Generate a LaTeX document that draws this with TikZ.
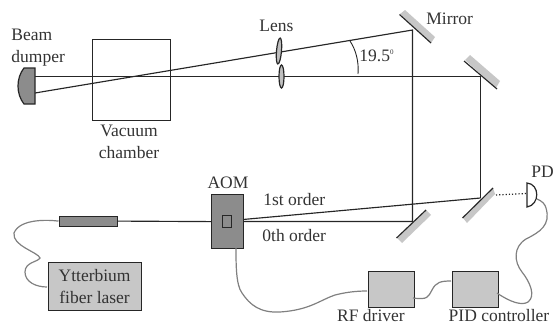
\documentclass[tikz,border=0pt]{standalone}
\usepackage{fontspec}
\setmainfont{Liberation Serif}
\begin{document}
\begin{tikzpicture}[x=1pt,y=-1pt,thick]
    \tikzstyle{beam}=[line width=1.15pt,draw=black!85]
    \tikzstyle{fibre}=[line width=1.2pt,draw=black!50]
    \tikzstyle{tbox}=[line width=1.2pt,draw=black!85,inner sep=0pt,anchor=north west]
    \tikzstyle{lbl}=[inner sep=0pt,align=center,text=black!80,font=\fontsize{17.5}{22}\selectfont]
    \tikzstyle{glass}=[fill=black!22,draw=none]
    \useasboundingbox (0,0) rectangle (554,324);

    % boxes
    \node[tbox,minimum width=78pt,minimum height=81.5pt] (chamber) at (91.5,38.5) {};
    \node[tbox,fill=black!45,minimum width=32pt,minimum height=54pt] (aom) at (211,194) {};
    \node[tbox,fill=black!45,minimum width=9pt,minimum height=12pt] (cell) at (222,215) {};
    \node[tbox,fill=black!45,minimum width=58pt,minimum height=10pt] (coll) at (58.5,215.5) {};
    \node[tbox,fill=black!22,minimum width=93pt,minimum height=48pt] (laser) at (47.5,261.5) {};
    \node[tbox,fill=black!22,minimum width=46pt,minimum height=36pt] (rf) at (367.5,270.5) {};
    \node[tbox,fill=black!22,minimum width=46pt,minimum height=36pt] (pid) at (451.5,270.5) {};

    % beam points
    \coordinate (dumpa) at (35,76.5);
    \coordinate (dumpb) at (35,93);
    \coordinate (m1) at (412.5,30);
    \coordinate (m2) at (480.5,76.5);
    \coordinate (m3) at (412.5,221.5);
    \coordinate (m4) at (480.5,198);
    \coordinate (aoma) at (243,221.5);
    \coordinate (aomb) at (243,219.5);
    \coordinate (pdin) at (526,193.5);

    % mirrors
    \fill[glass] (400,14) -- (405,10) -- (435,37) -- (431,43) -- cycle;
    \draw[beam] (399.5,14.5) -- (431,43);
    \fill[glass] (465,60) -- (470,55) -- (500,81) -- (496,88) -- cycle;
    \draw[beam] (464,61) -- (497,89);
    \fill[glass] (397,238) -- (426,210) -- (431,215) -- (402,243) -- cycle;
    \draw[beam] (396.5,238) -- (426,210);
    \fill[glass] (463,218) -- (493,188) -- (495,194) -- (467,223) -- cycle;
    \draw[beam] (462.5,218) -- (493,188);

    % beams
    \draw[beam] (dumpa) -- (m2) -- (m4);
    \draw[beam] (dumpb) -- (m1) -- (m3) -- (aoma);
    \draw[beam] (aomb) -- (m4);
    \draw[beam] (coll.east) -- (aom.west);
    \draw[line width=1.2pt,dotted,draw=black!85] (496,195) -- (pdin);

    % dumper, lenses, detector
    \draw[line width=1.2pt,draw=black!85,fill=black!45] (35,68) -- (24,68) .. controls (16,78) and (16,94) .. (24,104) -- (35,104) -- cycle;
    \draw[line width=1.2pt,draw=black!85,fill=black!25,rotate around={-5:(279,51)}] (279,51) ellipse (2.5pt and 13pt);
    \draw[line width=1.2pt,draw=black!85,fill=black!25] (281.5,76.5) ellipse (2.5pt and 11.5pt);
    \draw[line width=1.2pt,draw=black!85,fill=white] (527,183) .. controls (540,184) and (540,205) .. (527,207) -- cycle;

    % angle mark
    \draw[line width=0.9pt,draw=black!85] (350,41) .. controls (356,50) and (359,62) .. (358,74);

    % fibres
    \draw[fibre] (coll.west) .. controls (50,220) and (20,218) .. (14,233) .. controls (12,246) and (38,252) .. (40,258) .. controls (38,262) and (25,262) .. (25,272) .. controls (25,282) and (36,287) .. (47,287);
    \draw[fibre] (236,248) .. controls (236,265) and (236,285) .. (242,293) .. controls (250,305) and (260,313) .. (280,312) .. controls (310,310) and (320,300) .. (335,295) .. controls (347,292) and (357,291) .. (367,291);
    \draw[fibre] (413,298) .. controls (428,300) and (428,297) .. (432,290) .. controls (436,282) and (441,281) .. (451,281);
    \draw[fibre] (497,293) .. controls (510,302) and (522,306) .. (528,302) .. controls (536,296) and (530,282) .. (522,272) .. controls (514,262) and (513,247) .. (526,239) .. controls (540,232) and (551,225) .. (546,208) .. controls (545,204) and (542,201) .. (537,199);

    % labels
    \node[lbl,align=left,anchor=west] (beamlbl) at (11,48) {Beam\\dumper};
    \node[lbl] (chamberlbl) at (129,142) {Vacuum\\chamber};
    \node[lbl] (lenslbl) at (276.5,26) {Lens};
    \node[lbl,anchor=west] (mirrorlbl) at (426,19) {Mirror};
    \node[lbl,anchor=west] (anglelbl) at (359,56) {19.5\raisebox{7pt}{\fontsize{7}{7}\selectfont 0}};
    \node[lbl] (aomlbl) at (228,183) {AOM};
    \node[lbl,anchor=west] (firstlbl) at (263,199.5) {1st order};
    \node[lbl,anchor=west] (zerolbl) at (262,235.5) {0th order};
    \node[lbl] (pdlbl) at (542.5,172) {PD};
    \node[lbl] at (laser.center) {Ytterbium\\fiber laser};
    \node[lbl] (rflbl) at (371,315.4) {RF driver};
    \node[lbl] (pidlbl) at (499,315.4) {PID controller};
\end{tikzpicture}
\end{document}
